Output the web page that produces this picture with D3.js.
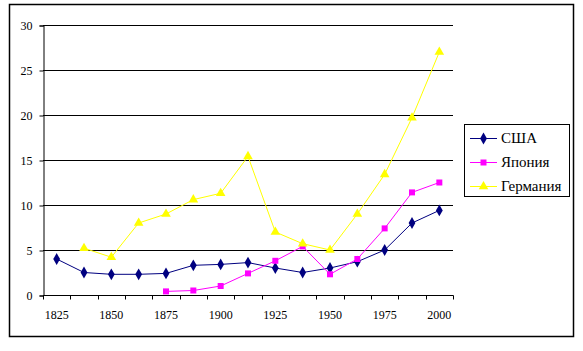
<!DOCTYPE html>
<html>
<head>
<meta charset="utf-8">
<script src="https://cdn.jsdelivr.net/npm/d3@7"></script>
</head>
<body style="margin:0">
<div id="vis"></div>
<script>
// categories (every 12.5 years, only every other one labelled)
const years = ['1825', '1837', '1850', '1862', '1875', '1887', '1900', '1912',
               '1925', '1937', '1950', '1962', '1975', '1987', '2000'];
const yTicks = [0, 5, 10, 15, 20, 25, 30];

const usa     = [4.0, 2.5, 2.3, 2.3, 2.4, 3.3, 3.4, 3.6, 3.0, 2.5, 3.0, 3.7, 5.0, 8.0, 9.4];
const japan   = [null, null, null, null, 0.4, 0.5, 1.0, 2.4, 3.8, 5.4, 2.3, 4.0, 7.4, 11.4, 12.5];
const germany = [null, 5.2, 4.2, 8.0, 9.0, 10.6, 11.3, 15.4, 7.0, 5.7, 5.0, 9.0, 13.4, 19.7, 27.0];

const seriesNames = ['США', 'Япония', 'Германия'];
const series = [
  {name: seriesNames[0], values: usa,     color: '#000080', symbol: d3.symbolDiamond,  size: 40},
  {name: seriesNames[1], values: japan,   color: '#ff00ff', symbol: d3.symbolSquare,   size: 36},
  {name: seriesNames[2], values: germany, color: '#ffff00', symbol: d3.symbolTriangle, size: 40}
];

const W = 583, H = 351;
const plot = {left: 43, right: 453, top: 25, bottom: 295};
const serifFont = 'Liberation Serif';

const svg = d3.select('#vis').append('svg')
  .attr('width', W)
  .attr('height', H)
  .attr('font-family', serifFont);

// outer frame
svg.append('rect')
  .attr('x', 9.5).attr('y', 4.5)
  .attr('width', 564).attr('height', 332)
  .attr('fill', '#fff')
  .attr('stroke', '#000')
  .attr('stroke-width', 1.5);

// scales
const xScale = d3.scaleBand().domain(years).range([plot.left, plot.right]).padding(0);
const xPos = i => xScale(years[i]) + xScale.bandwidth() / 2;
const yScale = d3.scaleLinear().domain([0, 30]).range([plot.bottom, plot.top]);

// gridlines
svg.append('g')
  .selectAll('line')
  .data(yTicks.slice(1))
  .enter()
  .append('line')
  .attr('x1', plot.left).attr('x2', plot.right)
  .attr('y1', d => Math.round(yScale(d)) + 0.5)
  .attr('y2', d => Math.round(yScale(d)) + 0.5)
  .attr('stroke', '#000')
  .attr('stroke-width', 1);

// y axis
const yAxis = svg.append('g')
  .attr('transform', 'translate(' + (plot.left + 0.5) + ',0.5)')
  .call(d3.axisLeft(yScale).tickValues(yTicks).tickSize(4).tickPadding(7));
yAxis.attr('font-family', serifFont).attr('font-size', 12);
yAxis.select('.domain').attr('stroke', '#000');
yAxis.selectAll('.tick line').attr('stroke', '#000');
yAxis.selectAll('text').attr('fill', '#000').attr('font-family', serifFont);

// x axis: ticks between categories
const xAxis = svg.append('g')
  .attr('transform', 'translate(0,' + (plot.bottom + 0.5) + ')');
xAxis.append('line')
  .attr('x1', plot.left).attr('x2', plot.right + 0.5)
  .attr('stroke', '#000');
xAxis.selectAll('line.tk')
  .data(years.concat(['end']))
  .enter()
  .append('line')
  .attr('class', 'tk')
  .attr('x1', (d, i) => Math.round(plot.left + i * xScale.bandwidth()) + 0.5)
  .attr('x2', (d, i) => Math.round(plot.left + i * xScale.bandwidth()) + 0.5)
  .attr('y1', 0).attr('y2', 4)
  .attr('stroke', '#000');
xAxis.selectAll('text')
  .data(years.filter((d, i) => i % 2 === 0))
  .enter()
  .append('text')
  .attr('x', d => xScale(d) + xScale.bandwidth() / 2)
  .attr('y', 23)
  .attr('text-anchor', 'middle')
  .attr('font-size', 12)
  .attr('font-family', serifFont)
  .text(d => d);

// lines and markers
const line = d3.line()
  .defined(d => d != null)
  .x((d, i) => xPos(i))
  .y(d => yScale(d));

series.forEach(s => {
  svg.append('path')
    .attr('d', line(s.values))
    .attr('fill', 'none')
    .attr('stroke', s.color)
    .attr('stroke-width', 1);

  svg.append('g').selectAll('path')
    .data(s.values.map((v, i) => ({v, i})).filter(d => d.v != null))
    .enter()
    .append('path')
    .attr('d', d3.symbol().type(s.symbol).size(s.size))
    .attr('transform', d => 'translate(' + xPos(d.i) + ',' + yScale(d.v) + ')')
    .attr('fill', s.color);
});

// legend
const legend = svg.append('g');
legend.append('rect')
  .attr('x', 464.5).attr('y', 124.5)
  .attr('width', 105).attr('height', 72)
  .attr('fill', '#fff')
  .attr('stroke', '#000');

series.forEach((s, i) => {
  const y = 138 + i * 24;
  legend.append('line')
    .attr('x1', 470).attr('x2', 497)
    .attr('y1', y + 0.5).attr('y2', y + 0.5)
    .attr('stroke', s.color);
  legend.append('path')
    .attr('d', d3.symbol().type(s.symbol).size(s.size))
    .attr('transform', 'translate(483.5,' + (y + 0.5) + ')')
    .attr('fill', s.color);
  legend.append('text')
    .attr('x', 501)
    .attr('y', y + 5)
    .attr('font-size', 15)
    .attr('font-family', serifFont)
    .text(s.name);
});
</script>
</body>
</html>
